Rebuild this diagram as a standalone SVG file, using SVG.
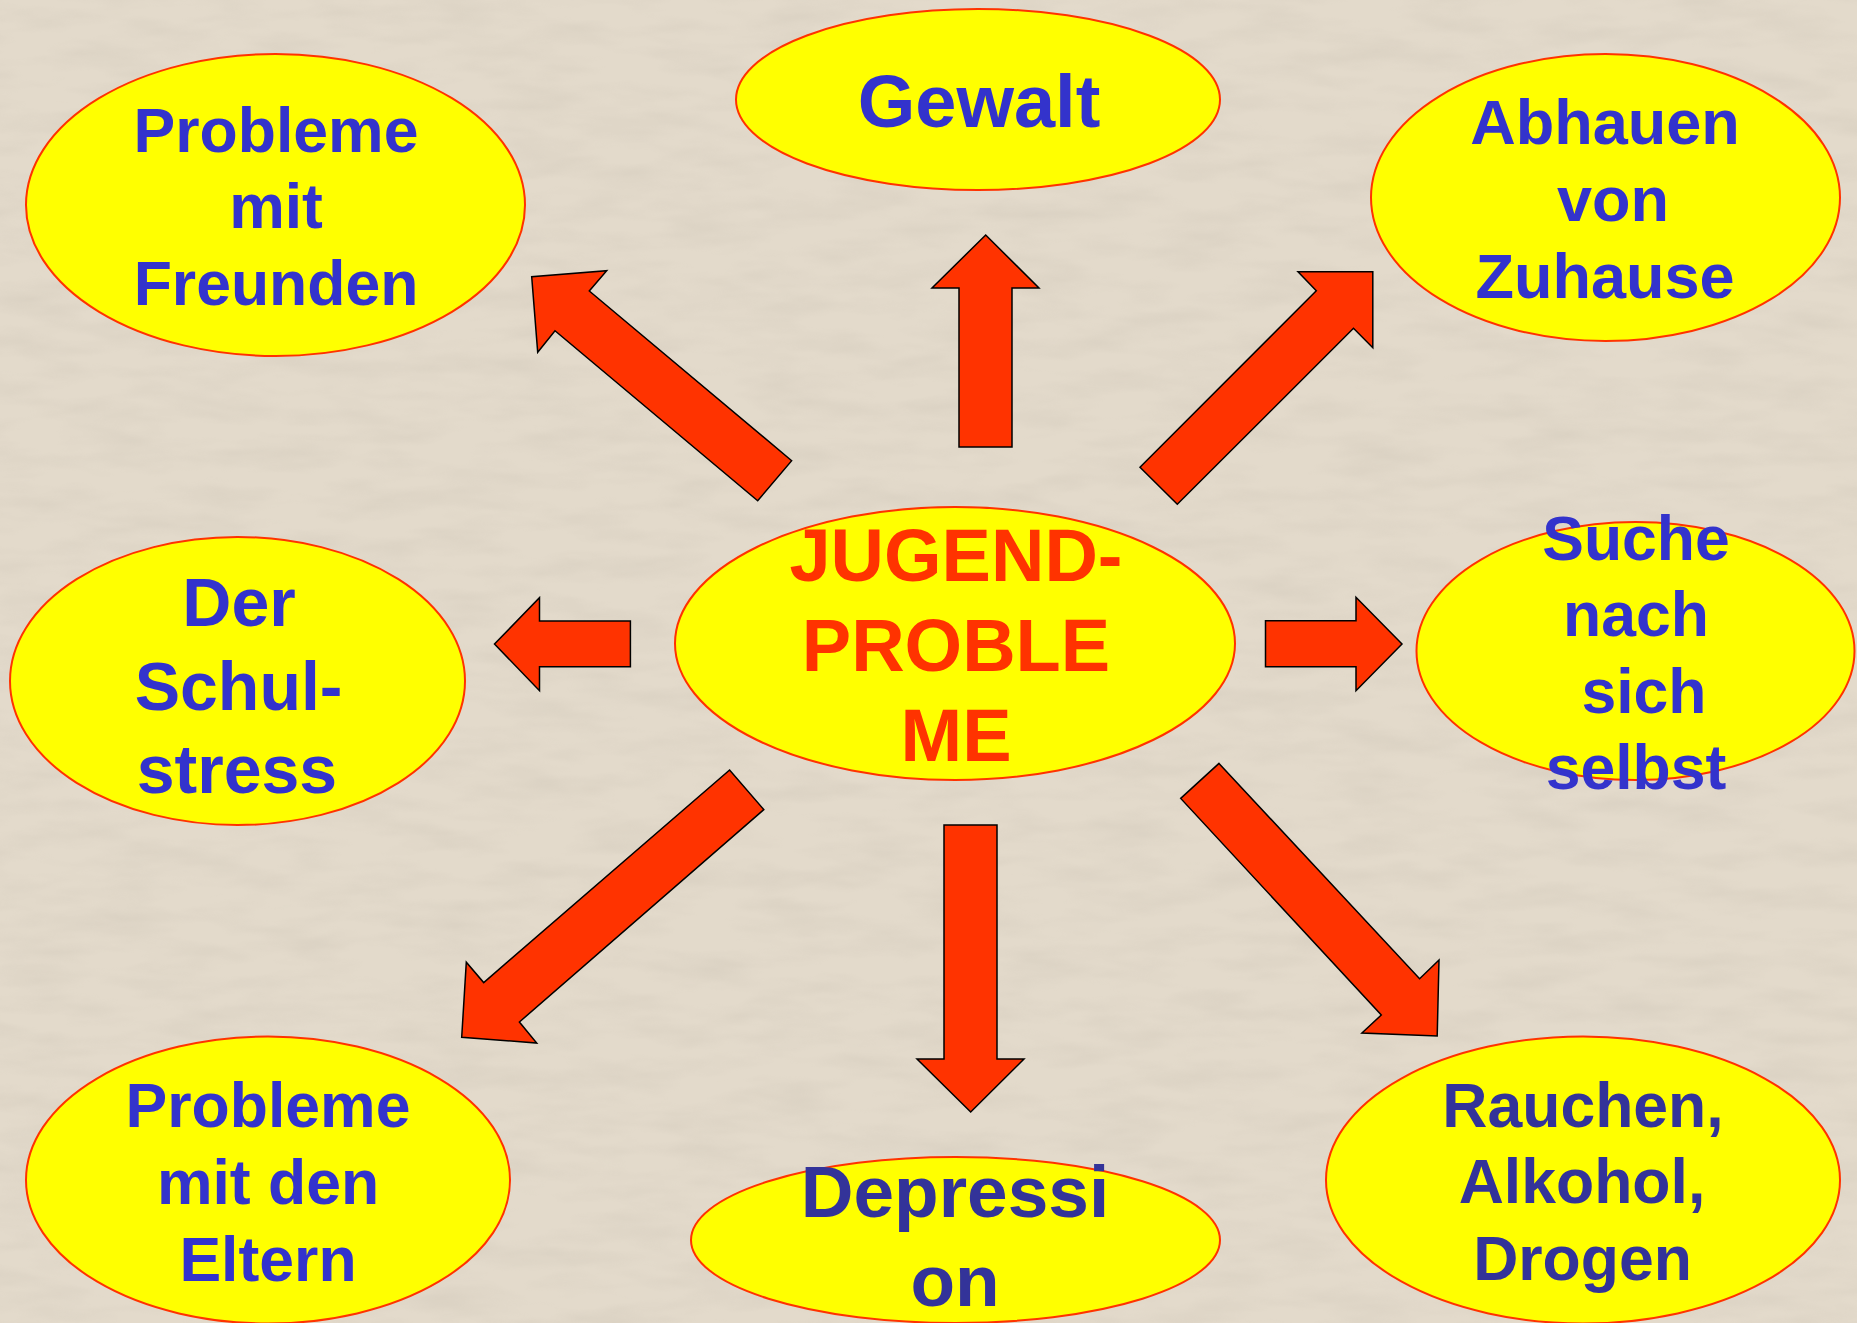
<svg xmlns="http://www.w3.org/2000/svg" width="1857" height="1323" viewBox="0 0 1857 1323">
  <defs>
    <filter id="paper" x="0" y="0" width="100%" height="100%">
      <feTurbulence type="fractalNoise" baseFrequency="0.012 0.045" numOctaves="3" seed="7" result="n"/>
      <feColorMatrix in="n" type="matrix" values="0 0 0 0 0.55  0 0 0 0 0.50  0 0 0 0 0.42  -1.4 0 0 0 0.85"/>
    </filter>
  </defs>
  <style>
    .node ellipse { fill: #FFFF00; stroke: #FF3300; stroke-width: 2; }
    .lbl { font-family: "Liberation Sans", Arial, sans-serif; font-weight: bold; text-anchor: middle; fill: #3333CC; }
    .dark { fill: #333399; }
    .center { fill: #FF3300; }
    .arrow { fill: #FF3300; stroke: #000000; stroke-width: 1.5; stroke-linejoin: miter; }
  </style>
  <rect x="0" y="0" width="1857" height="1323" fill="#E3DACB"/>
  <rect x="0" y="0" width="1857" height="1323" filter="url(#paper)" opacity="0.35"/>

  <g id="connectors">
    <polygon class="arrow" points="959,447 959,288 932,288 985.7,235 1039,288 1012,288 1012,447"/>
    <polygon class="arrow" points="944,825 997,825 997,1059 1024,1059 970.7,1112 917,1059 944,1059"/>
    <polygon class="arrow" points="630.4,621 539.5,621 539.5,597.7 494.5,644 539.5,690.7 539.5,666.7 630.4,666.7"/>
    <polygon class="arrow" points="1265.5,620.7 1356,620.7 1356,597.3 1402,644 1356,690.7 1356,666.7 1265.5,666.7"/>
    <polygon class="arrow" points="791.7,460.7 589.3,291 606.7,270.7 531.7,276.7 537.7,352.3 555,330.7 757.7,500.7"/>
    <polygon class="arrow" points="1140,467.3 1316.3,290.7 1298,271.7 1372.8,271.7 1372.8,347.7 1353.5,328.3 1177.3,504.3"/>
    <polygon class="arrow" points="729.6,770 483.7,982.6 466.3,962.2 461.7,1037.2 536.7,1043 519.4,1022 763.8,809.6"/>
    <polygon class="arrow" points="1219,763.4 1419.6,978.7 1439,960 1437.2,1035.9 1361.9,1033 1381.3,1015 1180.7,798.4"/>
  </g>

  <g id="node-freunden" class="node">
    <ellipse cx="275.5" cy="205" rx="249.5" ry="151"/>
    <text class="lbl" font-size="62.5"><tspan x="276" y="152">Probleme</tspan><tspan x="276" y="228">mit</tspan><tspan x="276" y="305">Freunden</tspan></text>
  </g>
  <g id="node-gewalt" class="node">
    <ellipse cx="978" cy="99.5" rx="242" ry="90.5"/>
    <text class="lbl" font-size="74" x="979" y="127">Gewalt</text>
  </g>
  <g id="node-abhauen" class="node">
    <ellipse cx="1605.5" cy="197.5" rx="234.5" ry="143.5"/>
    <text class="lbl" font-size="63"><tspan x="1605" y="144">Abhauen</tspan><tspan x="1613" y="221">von</tspan><tspan x="1605" y="298">Zuhause</tspan></text>
  </g>
  <g id="node-schulstress" class="node">
    <ellipse cx="237.5" cy="681" rx="227.5" ry="144"/>
    <text class="lbl" font-size="68"><tspan x="239" y="626">Der</tspan><tspan x="238.6" y="710">Schul-</tspan><tspan x="237" y="793">stress</tspan></text>
  </g>
  <g id="node-center" class="node">
    <ellipse cx="955" cy="643.5" rx="280" ry="136.5"/>
    <text class="lbl center" font-size="74"><tspan x="956" y="581">JUGEND-</tspan><tspan x="956" y="671">PROBLE</tspan><tspan x="956" y="761">ME</tspan></text>
  </g>
  <g id="node-suche" class="node">
    <ellipse cx="1635.5" cy="651" rx="219" ry="129"/>
    <text class="lbl" font-size="62.5"><tspan x="1636" y="560">Suche</tspan><tspan x="1636" y="636">nach</tspan><tspan x="1644" y="713">sich</tspan><tspan x="1636" y="789">selbst</tspan></text>
  </g>
  <g id="node-eltern" class="node">
    <ellipse cx="268" cy="1180" rx="242" ry="143.5"/>
    <text class="lbl" font-size="62.5"><tspan x="268" y="1127">Probleme</tspan><tspan x="268" y="1204">mit den</tspan><tspan x="268" y="1280.6">Eltern</tspan></text>
  </g>
  <g id="node-depression" class="node">
    <ellipse cx="955.5" cy="1240" rx="264.5" ry="83"/>
    <text class="lbl dark" font-size="73"><tspan x="955" y="1216.7">Depressi</tspan><tspan x="955" y="1306">on</tspan></text>
  </g>
  <g id="node-rauchen" class="node">
    <ellipse cx="1583" cy="1180" rx="257" ry="143.5"/>
    <text class="lbl dark" font-size="62.5"><tspan x="1583" y="1126.6">Rauchen,</tspan><tspan x="1582" y="1202.8">Alkohol,</tspan><tspan x="1582.5" y="1279.8">Drogen</tspan></text>
  </g>
</svg>
